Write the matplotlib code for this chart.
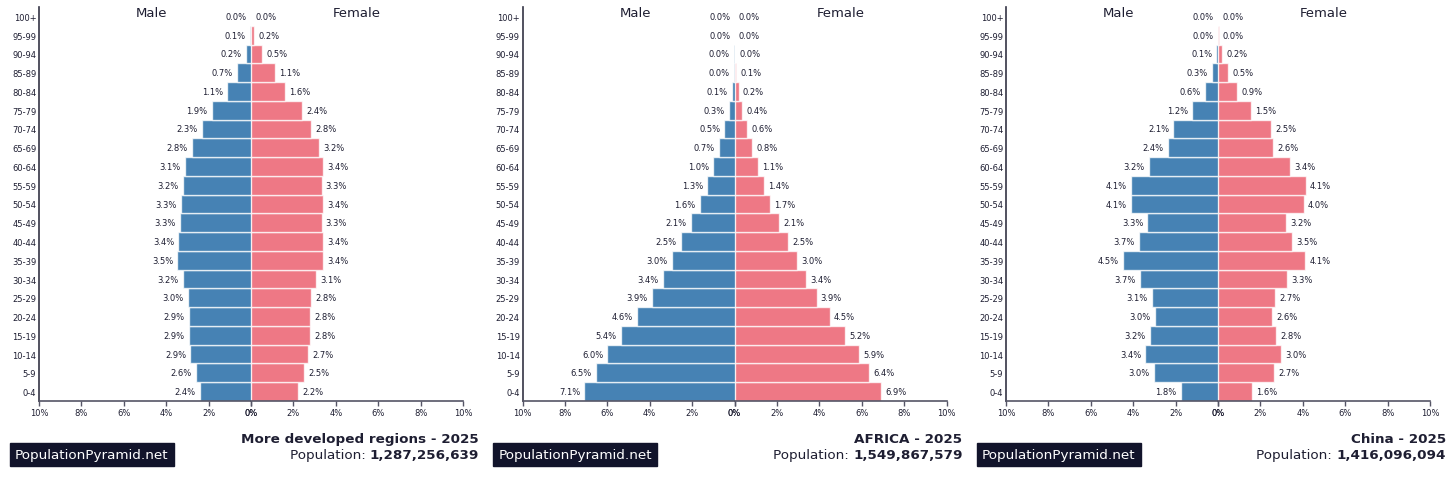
import matplotlib.pyplot as plt

# age groups, youngest first
ages = ['0-4', '5-9', '10-14', '15-19', '20-24', '25-29', '30-34', '35-39', '40-44', '45-49',
        '50-54', '55-59', '60-64', '65-69', '70-74', '75-79', '80-84', '85-89', '90-94', '95-99', '100+']

# percent of total population
dev_male = [2.4, 2.6, 2.86, 2.94, 2.92, 2.97, 3.22, 3.48, 3.43, 3.34, 3.32, 3.22, 3.12, 2.78, 2.32, 1.86, 1.12, 0.66, 0.24, 0.06, 0.0]
dev_female = [2.22, 2.52, 2.71, 2.8, 2.78, 2.82, 3.08, 3.38, 3.41, 3.33, 3.39, 3.33, 3.39, 3.2, 2.83, 2.4, 1.6, 1.14, 0.53, 0.16, 0.02]
afr_male = [7.08, 6.52, 6.0, 5.36, 4.58, 3.9, 3.38, 2.95, 2.52, 2.06, 1.63, 1.29, 1.0, 0.72, 0.48, 0.28, 0.13, 0.04, 0.01, 0.0, 0.0]
afr_female = [6.9, 6.36, 5.87, 5.23, 4.5, 3.87, 3.39, 2.96, 2.54, 2.09, 1.68, 1.37, 1.1, 0.83, 0.59, 0.37, 0.19, 0.07, 0.02, 0.0, 0.0]
chn_male = [1.76, 3.03, 3.43, 3.23, 2.99, 3.13, 3.69, 4.47, 3.73, 3.33, 4.1, 4.12, 3.25, 2.36, 2.1, 1.22, 0.62, 0.29, 0.08, 0.01, 0.0]
chn_female = [1.61, 2.66, 2.96, 2.75, 2.57, 2.7, 3.27, 4.11, 3.51, 3.21, 4.04, 4.14, 3.38, 2.59, 2.51, 1.54, 0.89, 0.49, 0.19, 0.03, 0.0]

titles = ['More developed regions - 2025', 'AFRICA - 2025', 'China - 2025']
populations = ['1,287,256,639', '1,549,867,579', '1,416,096,094']
panels = [(dev_male, dev_female), (afr_male, afr_female), (chn_male, chn_female)]

W, H = 1456, 485
BLUE = '#4682b4'
PINK = '#ee7885'
TEXT = '#1e1e32'
EDGE = (1, 1, 1, 0.75)

fig = plt.figure(figsize=(W / 100, H / 100), dpi=100)
renderer = fig.canvas.get_renderer()


def fx(px):
    return px / W


def fy(py):
    return 1 - py / H


ticks = [0, 2, 4, 6, 8, 10]
y = list(range(len(ages)))

for i, (male, female) in enumerate(panels):
    off = i * 483.5
    left, mid, right = off + 39, off + 251, off + 463
    top, bottom = 8, 402
    h = (bottom - top) / H

    axm = fig.add_axes([fx(left), fy(bottom), fx(mid - left), h])
    axf = fig.add_axes([fx(mid), fy(bottom), fx(right - mid), h])

    axm.barh(y, male, height=1.0, color=BLUE, edgecolor=EDGE, linewidth=1.0)
    axf.barh(y, female, height=1.0, color=PINK, edgecolor=EDGE, linewidth=1.0)

    for yy, v in zip(y, male):
        axm.annotate(f'{v:.1f}%', (v, yy), xytext=(-3, 0), textcoords='offset points',
                     ha='right', va='center', fontsize=6, color=TEXT)
    for yy, v in zip(y, female):
        axf.annotate(f'{v:.1f}%', (v, yy), xytext=(3, 0), textcoords='offset points',
                     ha='left', va='center', fontsize=6, color=TEXT)

    axm.set_xlim(10, 0)
    axf.set_xlim(0, 10)
    for ax in (axm, axf):
        ax.set_ylim(-0.5, 20.5)
        ax.set_xticks(ticks)
        ax.set_xticklabels([f'{t}%' for t in ticks])
        ax.tick_params(axis='x', labelsize=6, labelcolor=TEXT, color='#555566',
                       length=3.5, width=1, pad=1.5)
        ax.spines['top'].set_visible(False)
        ax.spines['right'].set_visible(False)
        ax.spines['bottom'].set_color('#555566')
        ax.spines['bottom'].set_linewidth(1.2)

    axm.set_yticks(y)
    axm.set_yticklabels(ages)
    axm.tick_params(axis='y', labelsize=6, labelcolor=TEXT, length=0, pad=2)
    axm.spines['left'].set_color('#333344')
    axm.spines['left'].set_linewidth(1.2)
    axf.spines['left'].set_visible(False)
    axf.set_yticks([])

    axm.text(0.533, 0.987, 'Male', transform=axm.transAxes, ha='center', va='center',
             fontsize=9.5, color=TEXT)
    axf.text(0.5, 0.987, 'Female', transform=axf.transAxes, ha='center', va='center',
             fontsize=9.5, color=TEXT)

    # title block at the bottom right of each panel
    tx = off + 479
    fig.text(fx(tx), fy(440), titles[i], ha='right', va='center', fontsize=9.7,
             fontweight='bold', color=TEXT)
    num = fig.text(fx(tx), fy(456), populations[i], ha='right', va='center', fontsize=9.7,
                   fontweight='bold', color=TEXT)
    bb = num.get_window_extent(renderer)
    fig.text(bb.x0 / W, fy(456), 'Population: ', ha='right', va='center', fontsize=9.7,
             color=TEXT)

    # site badge
    fig.text(fx(off + 15), fy(455.5), 'PopulationPyramid.net', ha='left', va='center',
             fontsize=9.7, color='white',
             bbox=dict(boxstyle='square,pad=0.38', facecolor='#12142b', edgecolor='#12142b'))

fig.savefig('out.png', dpi=100)
